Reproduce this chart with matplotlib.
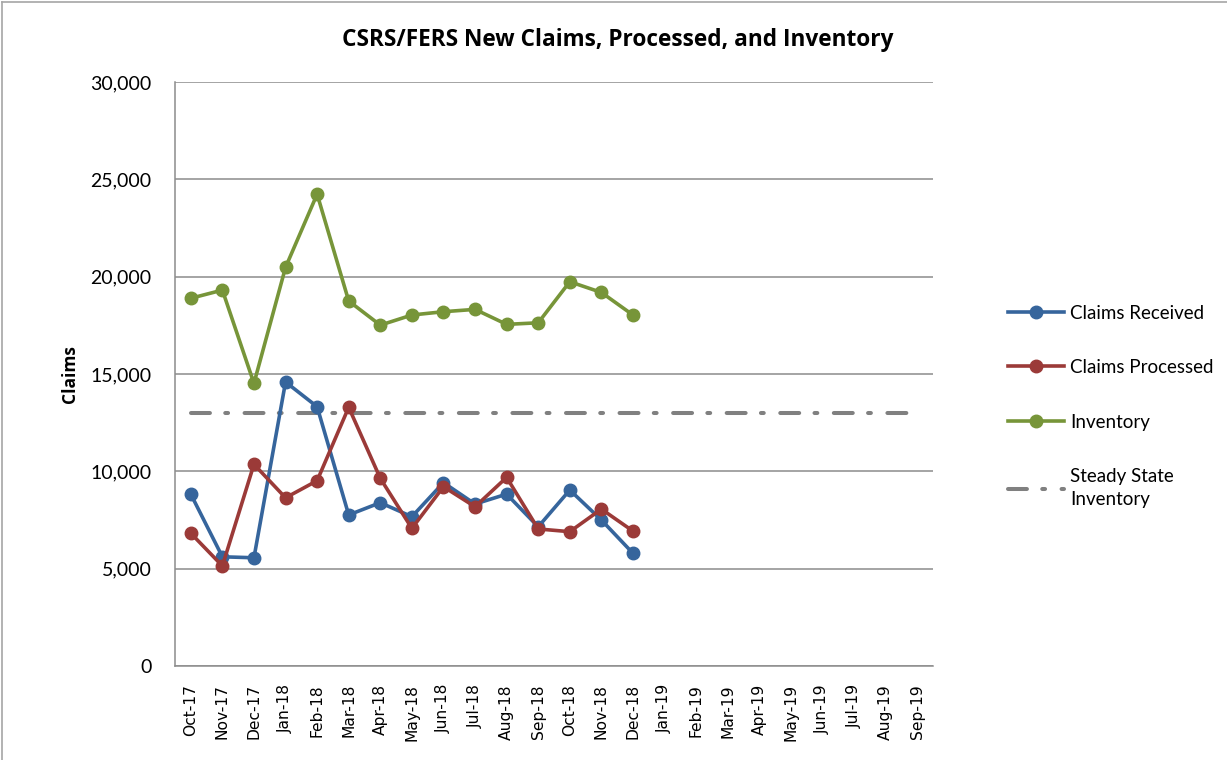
import matplotlib
matplotlib.use("Agg")
import matplotlib.pyplot as plt
from matplotlib.lines import Line2D

months = ["Oct-17", "Nov-17", "Dec-17", "Jan-18", "Feb-18", "Mar-18", "Apr-18", "May-18",
          "Jun-18", "Jul-18", "Aug-18", "Sep-18", "Oct-18", "Nov-18", "Dec-18", "Jan-19",
          "Feb-19", "Mar-19", "Apr-19", "May-19", "Jun-19", "Jul-19", "Aug-19", "Sep-19"]
claims_received = [8830, 5610, 5560, 14590, 13320, 7760, 8390, 7670, 9420, 8320, 8830, 7150,
                   9040, 7500, 5790]
claims_processed = [6820, 5140, 10360, 8640, 9520, 13290, 9640, 7070, 9210, 8180, 9690, 7040,
                    6900, 8060, 6930]
inventory = [18890, 19310, 14520, 20480, 24240, 18750, 17510, 18030, 18200, 18320, 17550,
             17630, 19740, 19190, 18030]
steady_state = [13000] * 24

BLUE = "#36659C"
RED = "#9B3A38"
GREEN = "#779539"
GRAY = "#808080"

fig = plt.figure(figsize=(12.27, 7.6), dpi=100)
ax = fig.add_axes([175/1227, 1-666/760, (933-175)/1227, (666-82)/760])

x_all = list(range(len(months)))
lw = 2.6
ms = 9
ax.plot(x_all[:len(claims_received)], claims_received, color=BLUE, lw=lw, marker="o", ms=ms,
        zorder=4, solid_joinstyle="round")
ax.plot(x_all[:len(claims_processed)], claims_processed, color=RED, lw=lw, marker="o", ms=ms,
        zorder=5, solid_joinstyle="round")
ax.plot(x_all[:len(inventory)], inventory, color=GREEN, lw=lw, marker="o", ms=ms,
        zorder=4, solid_joinstyle="round")
ax.plot(x_all, steady_state, color=GRAY, lw=2.9, zorder=3,
        dashes=(4.7, 3.8, 0.7, 4.1), dash_capstyle="round")

ax.set_xlim(-0.5, 23.5)
ax.set_ylim(0, 30000)
ax.set_yticks(range(0, 30001, 5000))
ax.set_yticklabels([f"{v:,}" for v in range(0, 30001, 5000)], fontfamily="Lato", fontsize=14)
ax.set_xticks(x_all)
ax.set_xticklabels(months, rotation=90, fontfamily="DejaVu Sans", fontsize=11.2)
ax.tick_params(axis="y", length=0, pad=17)
ax.tick_params(axis="x", length=0, pad=13)
ax.grid(axis="y", color="#8c8c8c", lw=1.1)
ax.set_axisbelow(True)
for s in ["top", "right"]:
    ax.spines[s].set_visible(False)
for s in ["left", "bottom"]:
    ax.spines[s].set_color("#8c8c8c")
    ax.spines[s].set_linewidth(1.1)

fig.text(70/1227, 1-374/760, "Claims", rotation=90, ha="center", va="center",
         fontfamily="Open Sans", fontweight="bold", fontsize=12.5)
fig.text(618/1227, 1-40/760, "CSRS/FERS New Claims, Processed, and Inventory",
         ha="center", va="center", fontfamily="Open Sans", fontweight="bold", fontsize=16.3)

handles = [
    Line2D([], [], color=BLUE, lw=lw, marker="o", ms=ms),
    Line2D([], [], color=RED, lw=lw, marker="o", ms=ms),
    Line2D([], [], color=GREEN, lw=lw, marker="o", ms=ms),
    Line2D([], [], color=GRAY, lw=2.9, dashes=(4.7, 3.8, 0.7, 4.1), dash_capstyle="round"),
]
labels = ["Claims Received", "Claims Processed", "Inventory", "Steady State\nInventory"]
leg = fig.legend(handles, labels, loc="upper left", bbox_to_anchor=(1000/1227, 1-297/760),
                 frameon=False, prop={"family": "Lato", "size": 13.5}, handlelength=3.0,
                 handletextpad=0.35, labelspacing=2.0, borderaxespad=0)
for t in leg.get_texts():
    t.set_linespacing(1.45)

# chart border (left and top)
fig.add_artist(Line2D([2/1227, 2/1227], [0, 1-2/760], color="#a6a6a6", lw=1.2,
                      transform=fig.transFigure))
fig.add_artist(Line2D([2/1227, 1], [1-2/760, 1-2/760], color="#a6a6a6", lw=1.2,
                      transform=fig.transFigure))

fig.savefig("out.png", dpi=100)
